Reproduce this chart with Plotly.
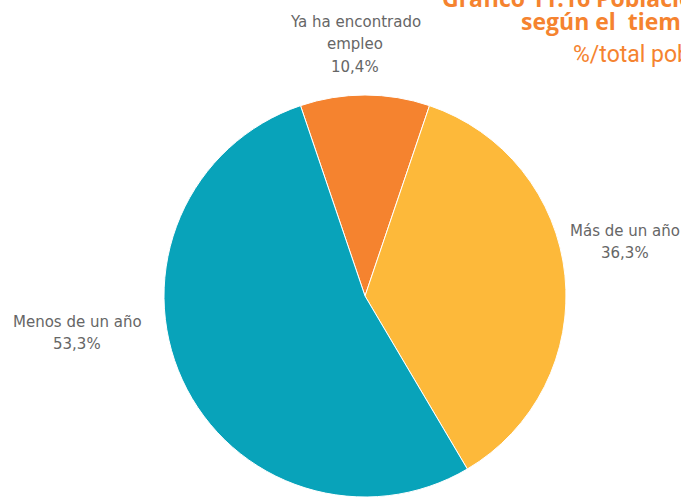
import plotly.graph_objects as go

# Data
categories = ["Ya ha encontrado empleo", "Más de un año", "Menos de un año"]
label_lines = [["Ya ha encontrado", "empleo"], ["Más de un año"], ["Menos de un año"]]
values = [10.4, 36.3, 53.3]
colors = ["#F5832F", "#FDB93A", "#08A3BA"]

title_lines = ["Gráfico 11.16 Población desempleada",
               "según el  tiempo de búsqueda",
               "%/total población desempleada"]

W, H = 681, 497
cx, cy, r = 365, 296, 201  # pixel geometry of the pie

fig = go.Figure()
fig.add_trace(go.Pie(
    labels=categories,
    values=values,
    marker=dict(colors=colors, line=dict(color="white", width=1)),
    sort=False,
    direction="clockwise",
    rotation=-values[0] / 100 * 360 / 2,
    textinfo="none",
    hoverinfo="label+percent",
    showlegend=False,
    domain=dict(x=[(cx - r) / W, (cx + r) / W],
                y=[max(0, (H - cy - r) / H), min(1, (H - cy + r) / H)]),
))

def fmt(v):
    return f"{v:.1f}".replace(".", ",") + "%"

# label block centres (pixels) and line spacing
label_pos = [(355, 44), (625, 242), (77, 333)]
line_gap = 22.5
for lines, v, (px, py) in zip(label_lines, values, label_pos):
    all_lines = lines + [fmt(v)]
    n = len(all_lines)
    for i, ln in enumerate(all_lines):
        ly = py + (i - (n - 1) / 2) * line_gap
        fig.add_annotation(
            x=px / W, y=1 - ly / H, xref="paper", yref="paper",
            text=ln, showarrow=False,
            xanchor="center", yanchor="middle", align="center",
            font=dict(family="DejaVu Sans", size=15, color="#666666"),
        )

# Title lines (cut off by the right edge, as in the original)
title_specs = [(title_lines[0], 440, -2, 23, True, "Open Sans"),
               (title_lines[1], 519, 21, 23, True, "Open Sans"),
               (title_lines[2], 571, 54, 23, False, "Roboto")]
for txt, px, py, size, bold, fam in title_specs:
    fig.add_annotation(
        x=px / W, y=1 - py / H, xref="paper", yref="paper",
        text=f"<b>{txt}</b>" if bold else txt,
        showarrow=False, xanchor="left", yanchor="middle", align="left",
        font=dict(family=fam, size=size, color="#F5832F"),
    )

fig.update_layout(
    width=W, height=H,
    margin=dict(l=0, r=0, t=0, b=0),
    paper_bgcolor="white", plot_bgcolor="white",
    separators=",.",
)

fig.write_html("out.html",
               config={"displayModeBar": False},
               post_script="document.body.style.margin='0px';"
                           "document.body.style.overflow='hidden';")
